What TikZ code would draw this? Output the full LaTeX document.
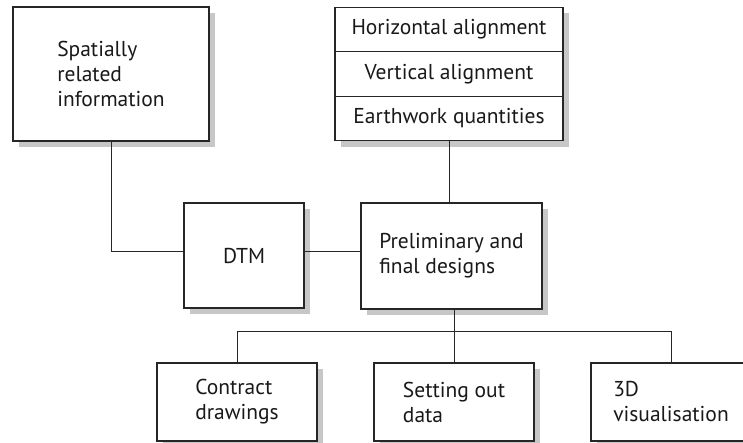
\documentclass[tikz,border=0pt]{standalone}
\usepackage{fontspec}
\setmainfont{PT Sans}
\usetikzlibrary{shadows}
\tikzset{
  block/.style={draw=black!85, fill=white, line width=1.2pt, text=black!90,
    align=left, inner sep=0pt,
    drop shadow={shadow xshift=6pt, shadow yshift=-6pt, fill=black!22, opacity=1}},
  row/.style={block, align=center, minimum width=228pt, minimum height=44.5pt},
  link/.style={draw=black!85, line width=0.9pt}
}
\begin{document}
\begin{tikzpicture}[x=1pt, y=1pt, font=\fontsize{21.5}{25}\selectfont]
  \useasboundingbox (0,0) rectangle (743,442);
  \node[block, minimum width=196pt, minimum height=134pt] (spatial) at (111,368) {Spatially\\related\\information};
  \node[row] (halign) at (449,412.5) {Horizontal alignment};
  \node[row] (valign) at (449,368) {Vertical alignment};
  \node[row] (earthwork) at (449,323.5) {Earthwork quantities};
  \node[block, minimum width=120pt, minimum height=105pt] (dtm) at (244,186.5) {DTM};
  \node[block, minimum width=181pt, minimum height=106pt] (prelim) at (451.5,186) {Preliminary and\\final designs};
  \node[block, minimum width=160pt, minimum height=78pt] (contract) at (237,40) {Contract\\drawings};
  \node[block, minimum width=160pt, minimum height=78pt] (setting) at (454,40) {Setting out\\data};
  \node[block, minimum width=160pt, minimum height=78pt] (visual) at (671,40) {3D\\visualisation};
  % connectors
  \draw[link] (spatial.south) |- ([yshift=4.5pt]dtm.west);
  \draw[link] ([yshift=4.5pt]dtm.east) -- ([yshift=4.5pt]dtm.east -| prelim.west);
  \draw[link] (earthwork.south) -- (earthwork.south |- prelim.north);
  \draw[link] (prelim.south -| setting.north) -- (setting.north);
  \draw[link] (contract.north) -- ++(0,31) -| (visual.north);
\end{tikzpicture}
\end{document}
